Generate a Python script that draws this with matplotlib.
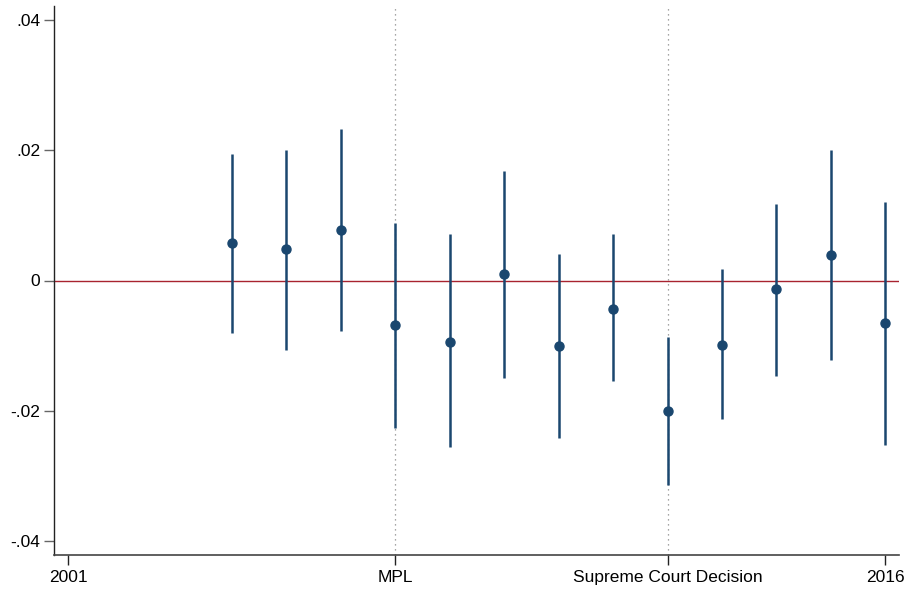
import numpy as np
import matplotlib.pyplot as plt

plt.rcParams['font.family'] = ['Liberation Sans', 'DejaVu Sans']

years = [2004, 2005, 2006, 2007, 2008, 2009, 2010, 2011, 2012, 2013, 2014, 2015, 2016]
coef = [0.0057, 0.0048, 0.0077, -0.0069, -0.0094, 0.0010, -0.0101, -0.0043, -0.0200,
        -0.0099, -0.0013, 0.0039, -0.0066]
ci_low = [-0.0081, -0.0106, -0.0078, -0.0227, -0.0256, -0.0149, -0.0242, -0.0155, -0.0314,
          -0.0213, -0.0146, -0.0122, -0.0252]
ci_high = [0.0195, 0.0200, 0.0232, 0.0088, 0.0071, 0.0168, 0.0040, 0.0072, -0.0086,
           0.0017, 0.0118, 0.0200, 0.0120]

event_years = [2007, 2012]
xtick_pos = [2001, 2007, 2012, 2016]
xtick_labels = ['2001', 'MPL', 'Supreme Court Decision', '2016']
ytick_pos = [-0.04, -0.02, 0, 0.02, 0.04]
ytick_labels = ['-.04', '-.02', '0', '.02', '.04']

navy = '#1a476f'

fig = plt.figure(figsize=(9.08, 5.90), dpi=100)
ax = fig.add_axes([54 / 908, 35 / 590, 845 / 908, 549 / 590])

for x in event_years:
    ax.axvline(x, color='#888888', linestyle=(0, (1, 3)), linewidth=0.9, zorder=1)
ax.axhline(0, color='#a8232f', linewidth=1.0, zorder=2)

ax.vlines(years, ci_low, ci_high, color=navy, linewidth=1.8, zorder=3)
ax.plot(years, coef, 'o', color=navy, markersize=6.5, zorder=4)

ax.set_xlim(2000.734, 2016.25)
ax.set_ylim(-0.04215, 0.04215)
ax.set_xticks(xtick_pos)
ax.set_xticklabels(xtick_labels)
ax.set_yticks(ytick_pos)
ax.set_yticklabels(ytick_labels)

ax.spines['top'].set_visible(False)
ax.spines['right'].set_visible(False)
ax.spines['left'].set_color('#222222')
ax.spines['bottom'].set_color('#444444')
ax.spines['left'].set_linewidth(1.0)
ax.spines['bottom'].set_linewidth(1.2)
ax.tick_params(axis='y', length=7, width=1.0, color='#666666', labelsize=12.5, pad=3)
ax.tick_params(axis='x', length=7, width=1.0, color='#222222', labelsize=12.5, pad=4)

fig.savefig('out.png', dpi=100, facecolor='white')
